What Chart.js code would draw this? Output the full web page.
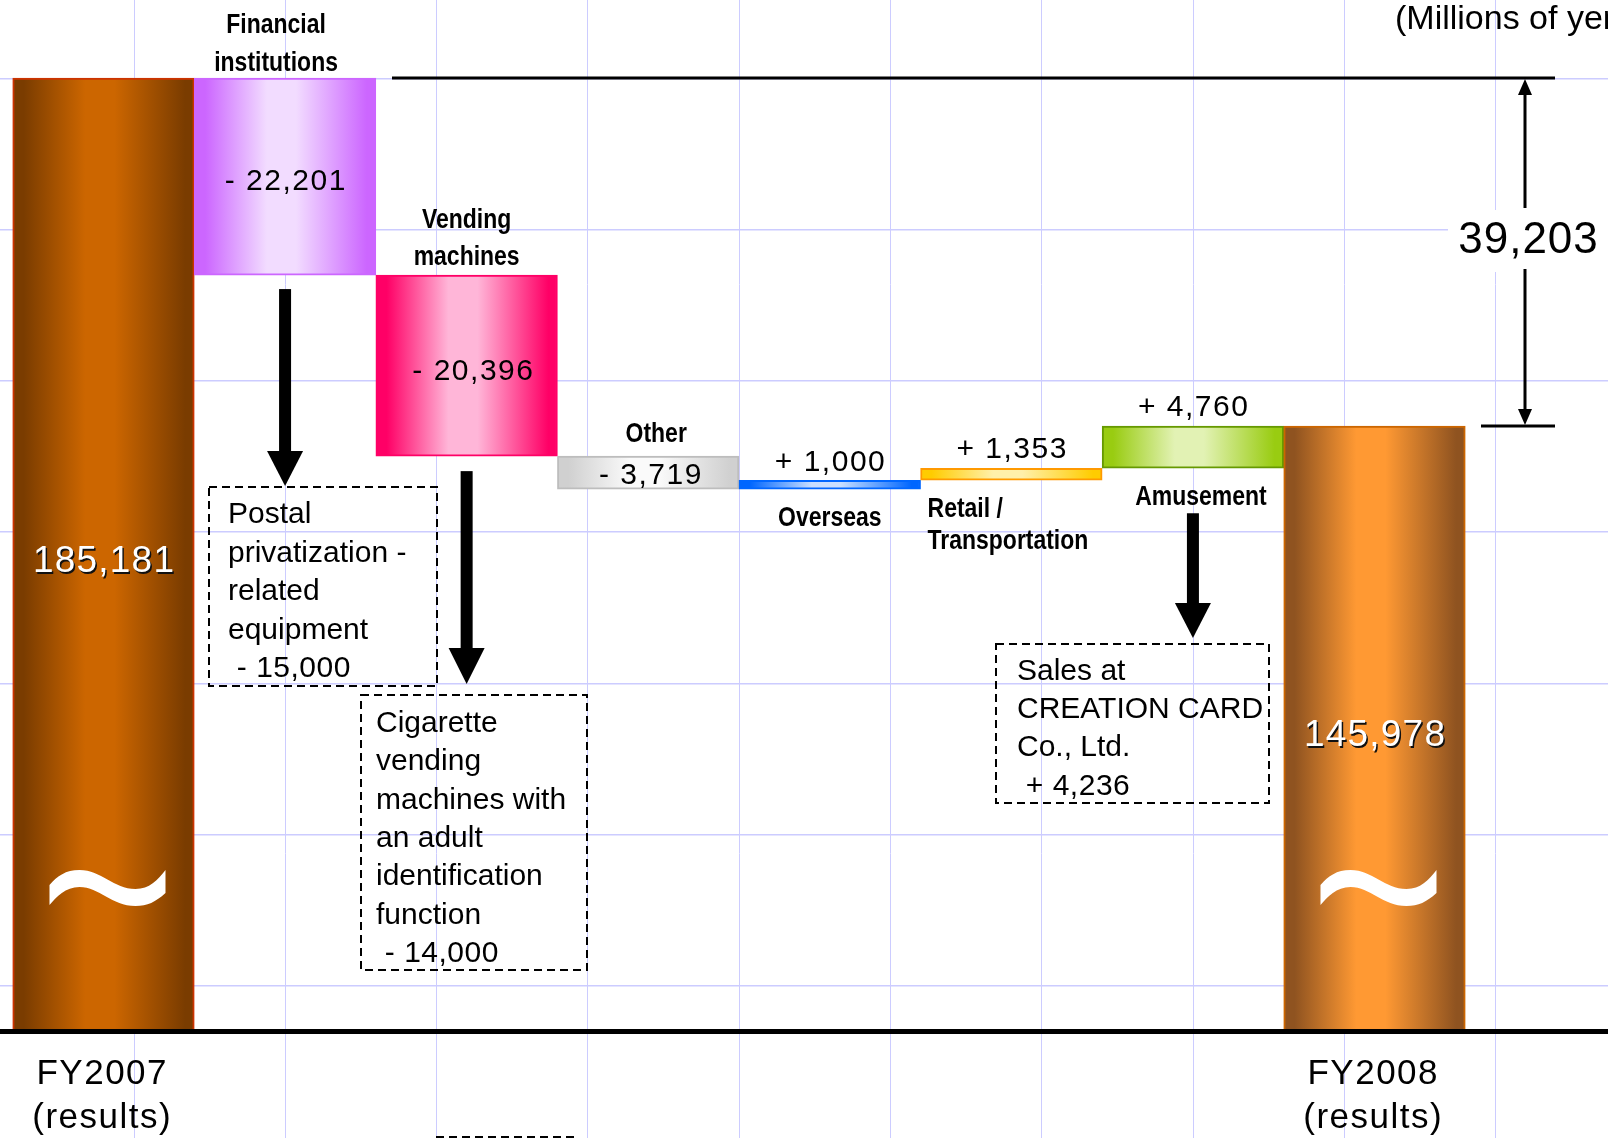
<!DOCTYPE html>
<html>
<head>
<meta charset="utf-8">
<script src="https://cdn.jsdelivr.net/npm/chart.js@4.4.1/dist/chart.umd.min.js"></script>
<style>
html,body{margin:0;padding:0;background:#fff;overflow:hidden}
#wrap{width:1608px;height:1138px;position:relative}
canvas{display:block}
</style>
</head>
<body>
<div id="wrap"><canvas id="c" width="1608" height="1138"></canvas></div>
<script>
// ---------------- data ----------------
const categoryLines = [
  ['FY2007', '(results)'],
  ['Financial', 'institutions'],
  ['Vending', 'machines'],
  ['Other'],
  ['Overseas'],
  ['Retail /', 'Transportation'],
  ['Amusement'],
  ['FY2008', '(results)']
];
const startTotal = 185181;                               // FY2007 results
const changes = [-22201, -20396, -3719, 1000, 1353, 4760]; // by segment
const endTotal = 145978;                                 // FY2008 results
const unitLabel = '(Millions of yen)';
const postalNoteLines = ['Postal', 'privatization -', 'related', 'equipment'];
const postalNoteValue = -15000;
const cigaretteNoteLines = ['Cigarette', 'vending', 'machines with', 'an adult', 'identification', 'function'];
const cigaretteNoteValue = -14000;
const creationNoteLines = ['Sales at', 'CREATION CARD', 'Co., Ltd.'];
const creationNoteValue = 4236;

// ---------------- scale / style settings ----------------
const AXIS_BREAK = 77767;          // value drawn at the (broken) baseline
const Y_MIN = 65770, Y_MAX = 193968;
const X_MIN = -0.570, X_MAX = 8.286;
const barStyles = [
  {edge:'#7a3c00', mid:'#cc6600', border:'#cc3300'},
  {edge:'#cc66ff', mid:'#f2dcff', border:'#cc66ff'},
  {edge:'#ff0066', mid:'#ffb6d8', border:'#ff0066'},
  {edge:'#d0d0d0', mid:'#fafafa', border:'#bdbdbd'},
  {edge:'#0066ff', mid:'#c8deff', border:'#0066ff'},
  {edge:'#ffcc00', mid:'#fff0aa', border:'#ff9900'},
  {edge:'#99cc11', mid:'#e2f2b4', border:'#669900'},
  {edge:'#8f5320', mid:'#ff9933', border:'#cc6600'}
];

// ---------------- derived floating ranges ----------------
const ranges = [[AXIS_BREAK, startTotal]];
let running = startTotal;
changes.forEach(d => {
  ranges.push(d < 0 ? [running + d, running] : [running, running + d]);
  running += d;
});
ranges.push([AXIS_BREAK, endTotal]);
const points = ranges.map((r, i) => ({x: i, y: r}));

const fmt = n => Math.abs(n).toLocaleString('en-US');
const signed = n => (n < 0 ? '- ' : '+ ') + fmt(n);

function barGradient(context) {
  const chart = context.chart;
  const st = barStyles[context.dataIndex] || barStyles[0];
  const xs = chart.scales && chart.scales.x;
  if (!xs) return st.edge;
  const cx = xs.getPixelForValue(context.dataIndex);
  const half = (xs.getPixelForValue(1) - xs.getPixelForValue(0)) / 2;
  if (!isFinite(cx) || !isFinite(half)) return st.edge;
  const g = chart.ctx.createLinearGradient(cx - half, 0, cx + half, 0);
  g.addColorStop(0, st.edge);
  g.addColorStop(0.06, st.edge);
  g.addColorStop(0.40, st.mid);
  g.addColorStop(0.56, st.mid);
  g.addColorStop(0.95, st.edge);
  g.addColorStop(1, st.edge);
  return g;
}

function txt(ctx, s, x, y, o) {
  ctx.save();
  ctx.font = o.font;
  ctx.fillStyle = o.color || '#000';
  const align = o.align || 'center';
  ctx.textAlign = align;
  ctx.textBaseline = o.baseline || 'alphabetic';
  const ls = o.ls || 0;
  if ('letterSpacing' in ctx) ctx.letterSpacing = ls + 'px';
  if (o.shadow) {
    ctx.shadowColor = o.shadow; ctx.shadowOffsetX = 1.5; ctx.shadowOffsetY = 1.5; ctx.shadowBlur = 0.5;
  }
  ctx.translate(x, y);
  if (o.sx) ctx.scale(o.sx, 1);
  ctx.fillText(s, align === 'center' ? ls / 2 : 0, 0);
  ctx.restore();
}

function downArrow(ctx, cx, y0, yHead, yTip) {
  ctx.save();
  ctx.fillStyle = '#000';
  ctx.fillRect(cx - 6, y0, 12, yHead - y0 + 1);
  ctx.beginPath();
  ctx.moveTo(cx - 18, yHead);
  ctx.lineTo(cx + 18, yHead);
  ctx.lineTo(cx, yTip);
  ctx.closePath();
  ctx.fill();
  ctx.restore();
}

function dashedBox(ctx, x0, y0, x1, y1) {
  ctx.save();
  ctx.strokeStyle = '#000';
  ctx.lineWidth = 2;
  ctx.setLineDash([8, 5]);
  ctx.strokeRect(x0, y0, x1 - x0, y1 - y0);
  ctx.restore();
}

function tilde(ctx, cx, cy) {
  ctx.save();
  ctx.translate(cx - 58, cy - 17.5);
  ctx.fillStyle = '#fff';
  ctx.beginPath();
  ctx.moveTo(0, 15);
  ctx.bezierCurveTo(8, 6, 16, 0, 30, 0);
  ctx.bezierCurveTo(52, 0, 64, 19, 86, 19);
  ctx.bezierCurveTo(100, 19, 108, 10, 116, 0);
  ctx.lineTo(116, 23);
  ctx.bezierCurveTo(106, 32, 98, 36, 86, 36);
  ctx.bezierCurveTo(62, 36, 50, 17, 30, 17);
  ctx.bezierCurveTo(16, 17, 7, 27, 0, 35);
  ctx.closePath();
  ctx.fill();
  ctx.restore();
}

const LABEL_FONT = 'bold 28px "Liberation Sans", Arial, sans-serif';
const VALUE_FONT = '30px "Liberation Sans", Arial, sans-serif';
const NOTE_FONT = '30px "Liberation Sans", Arial, sans-serif';
const CONDENSE = 0.82;

const annotations = {
  id: 'annotations',
  afterDatasetsDraw(chart) {
    const ctx = chart.ctx;
    const xs = chart.scales.x, ys = chart.scales.y;
    const W = chart.width;
    const cxOf = i => xs.getPixelForValue(i);
    const halfW = (xs.getPixelForValue(1) - xs.getPixelForValue(0)) / 2;
    const topOf = i => ys.getPixelForValue(ranges[i][1]);
    const botOf = i => ys.getPixelForValue(ranges[i][0]);
    const base = ys.getPixelForValue(AXIS_BREAK);
    const yStart = ys.getPixelForValue(startTotal);
    const yEnd = ys.getPixelForValue(endTotal);

    ctx.save();
    // broken-axis baseline
    ctx.fillStyle = '#000';
    ctx.fillRect(0, base - 2.5, W, 5);

    // reference lines for the year-on-year difference
    ctx.fillRect(392, yStart - 1.5, 1555 - 392, 3);
    ctx.fillRect(1481, yEnd - 1.5, 74, 3);

    const diffY = (yStart + yEnd) / 2 - 11;
    ctx.fillStyle = '#fff';
    ctx.fillRect(1448, diffY - 31, 160, 62);

    const ax = 1525;
    ctx.strokeStyle = '#000';
    ctx.lineWidth = 3;
    ctx.beginPath();
    ctx.moveTo(ax, yStart + 14); ctx.lineTo(ax, diffY - 33);
    ctx.moveTo(ax, diffY + 28); ctx.lineTo(ax, yEnd - 14);
    ctx.stroke();
    ctx.fillStyle = '#000';
    ctx.beginPath();
    ctx.moveTo(ax, yStart + 1); ctx.lineTo(ax - 7, yStart + 17); ctx.lineTo(ax + 7, yStart + 17); ctx.closePath(); ctx.fill();
    ctx.beginPath();
    ctx.moveTo(ax, yEnd - 1); ctx.lineTo(ax - 7, yEnd - 17); ctx.lineTo(ax + 7, yEnd - 17); ctx.closePath(); ctx.fill();
    txt(ctx, fmt(startTotal - endTotal), 1528, diffY, {font: '44px "Liberation Sans", Arial, sans-serif', ls: 1, baseline: 'middle'});

    txt(ctx, unitLabel, 1395, 29, {font: '34px "Liberation Sans", Arial, sans-serif', align: 'left'});

    // total bars: value, break mark, x-axis labels
    [0, 7].forEach(i => {
      const mid = (topOf(i) + base) / 2;
      const val = i === 0 ? startTotal : endTotal;
      txt(ctx, fmt(val), cxOf(i), mid + 17.5, {font: '37px "Liberation Sans", Arial, sans-serif', color: '#fff', ls: 1.2, shadow: '#111'});
      tilde(ctx, cxOf(i) + 4, base - 144);
      const ln = categoryLines[i];
      txt(ctx, ln[0], cxOf(i) - 2, base + 52.5, {font: '35px "Liberation Sans", Arial, sans-serif', ls: 1.5});
      txt(ctx, ln[1], cxOf(i) - 2, base + 96.5, {font: '35px "Liberation Sans", Arial, sans-serif', ls: 1.5});
    });

    // change bars: category names and values
    txt(ctx, categoryLines[1][0], cxOf(1) - 9, topOf(1) - 45, {font: LABEL_FONT, sx: CONDENSE});
    txt(ctx, categoryLines[1][1], cxOf(1) - 9, topOf(1) - 7, {font: LABEL_FONT, sx: CONDENSE});
    txt(ctx, signed(changes[0]), cxOf(1), (topOf(1) + botOf(1)) / 2 + 13, {font: VALUE_FONT, ls: 1.5});
    txt(ctx, categoryLines[2][0], cxOf(2), topOf(2) - 47, {font: LABEL_FONT, sx: CONDENSE});
    txt(ctx, categoryLines[2][1], cxOf(2), topOf(2) - 10, {font: LABEL_FONT, sx: CONDENSE});
    txt(ctx, signed(changes[1]), cxOf(2) + 6, (topOf(2) + botOf(2)) / 2 + 14, {font: VALUE_FONT, ls: 1.5});
    txt(ctx, categoryLines[3][0], cxOf(3) + 8, topOf(3) - 14, {font: LABEL_FONT, sx: CONDENSE});
    txt(ctx, signed(changes[2]), cxOf(3) + 2, (topOf(3) + botOf(3)) / 2 + 11, {font: VALUE_FONT, ls: 1.5});
    txt(ctx, signed(changes[3]), cxOf(4), topOf(4) - 9, {font: VALUE_FONT, ls: 1.5});
    txt(ctx, categoryLines[4][0], cxOf(4), botOf(4) + 37, {font: LABEL_FONT, sx: CONDENSE});
    txt(ctx, signed(changes[4]), cxOf(5), topOf(5) - 10, {font: VALUE_FONT, ls: 1.5});
    txt(ctx, categoryLines[5][0], cxOf(5) - halfW + 7, botOf(5) + 37, {font: LABEL_FONT, sx: CONDENSE, align: 'left'});
    txt(ctx, categoryLines[5][1], cxOf(5) - halfW + 7, botOf(5) + 69, {font: LABEL_FONT, sx: CONDENSE, align: 'left'});
    txt(ctx, signed(changes[5]), cxOf(6), topOf(6) - 10, {font: VALUE_FONT, ls: 1.5});
    txt(ctx, categoryLines[6][0], cxOf(6) + 8, botOf(6) + 37, {font: LABEL_FONT, sx: CONDENSE});

    // callout arrows and dashed note boxes
    downArrow(ctx, cxOf(1), botOf(1) + 14, 451, 486);
    downArrow(ctx, cxOf(2), botOf(2) + 15, 648, 684);
    downArrow(ctx, cxOf(6), botOf(6) + 45, 603, 638);

    dashedBox(ctx, 209, 487, 437, 686);
    postalNoteLines.forEach((s, k) => txt(ctx, s, 228, 523 + k * 38.5, {font: NOTE_FONT, align: 'left'}));
    txt(ctx, ' ' + signed(postalNoteValue), 228, 523 + 4 * 38.5, {font: NOTE_FONT, align: 'left', ls: 0.5});

    dashedBox(ctx, 361, 695, 587, 970);
    cigaretteNoteLines.forEach((s, k) => txt(ctx, s, 376, 732 + k * 38.3, {font: NOTE_FONT, align: 'left'}));
    txt(ctx, ' ' + signed(cigaretteNoteValue), 376, 732 + 6 * 38.3, {font: NOTE_FONT, align: 'left', ls: 0.5});

    dashedBox(ctx, 996, 644, 1269, 803);
    creationNoteLines.forEach((s, k) => txt(ctx, s, 1017, 680 + k * 38.2, {font: NOTE_FONT, align: 'left'}));
    txt(ctx, ' ' + signed(creationNoteValue), 1017, 680 + 3 * 38.2, {font: NOTE_FONT, align: 'left', ls: 0.5});

    // top edge of a further (cropped) note box
    ctx.strokeStyle = '#000';
    ctx.lineWidth = 2;
    ctx.setLineDash([8, 5]);
    ctx.beginPath();
    ctx.moveTo(436, 1137); ctx.lineTo(574, 1137);
    ctx.stroke();
    ctx.setLineDash([]);
    ctx.restore();
  }
};

new Chart(document.getElementById('c'), {
  type: 'bar',
  data: {
    datasets: [{
      data: points,
      backgroundColor: barGradient,
      borderColor: ctx => (barStyles[ctx.dataIndex] || barStyles[0]).border,
      borderWidth: 2,
      borderSkipped: false,
      barPercentage: 1,
      categoryPercentage: 1
    }]
  },
  options: {
    responsive: false,
    maintainAspectRatio: false,
    animation: false,
    events: [],
    layout: {padding: 0},
    plugins: {legend: {display: false}, tooltip: {enabled: false}},
    scales: {
      x: {
        type: 'linear', min: X_MIN, max: X_MAX, display: false, offset: false,
        grid: {offset: false},
        ticks: {stepSize: 1},
        afterBuildTicks: s => { s.ticks = s.ticks.filter(t => Number.isInteger(t.value)); }
      },
      y: {type: 'linear', min: Y_MIN, max: Y_MAX, display: false, beginAtZero: false},
      gx: {
        type: 'linear', axis: 'x', position: 'bottom', min: -0.8857, max: 9.742, offset: false,
        ticks: {display: false, stepSize: 1},
        grid: {color: '#ccccff', lineWidth: 1, drawTicks: false, offset: false},
        border: {display: false},
        afterBuildTicks: s => { s.ticks = s.ticks.filter(t => Number.isInteger(t.value)); }
      },
      gy: {
        type: 'linear', axis: 'y', position: 'left', reverse: true, min: -0.5192, max: 7.0073,
        ticks: {display: false, stepSize: 1},
        grid: {color: '#ccccff', lineWidth: 1.5, drawTicks: false},
        border: {display: false},
        afterBuildTicks: s => { s.ticks = s.ticks.filter(t => Number.isInteger(t.value)); }
      }
    }
  },
  plugins: [annotations]
});
</script>
</body>
</html>
